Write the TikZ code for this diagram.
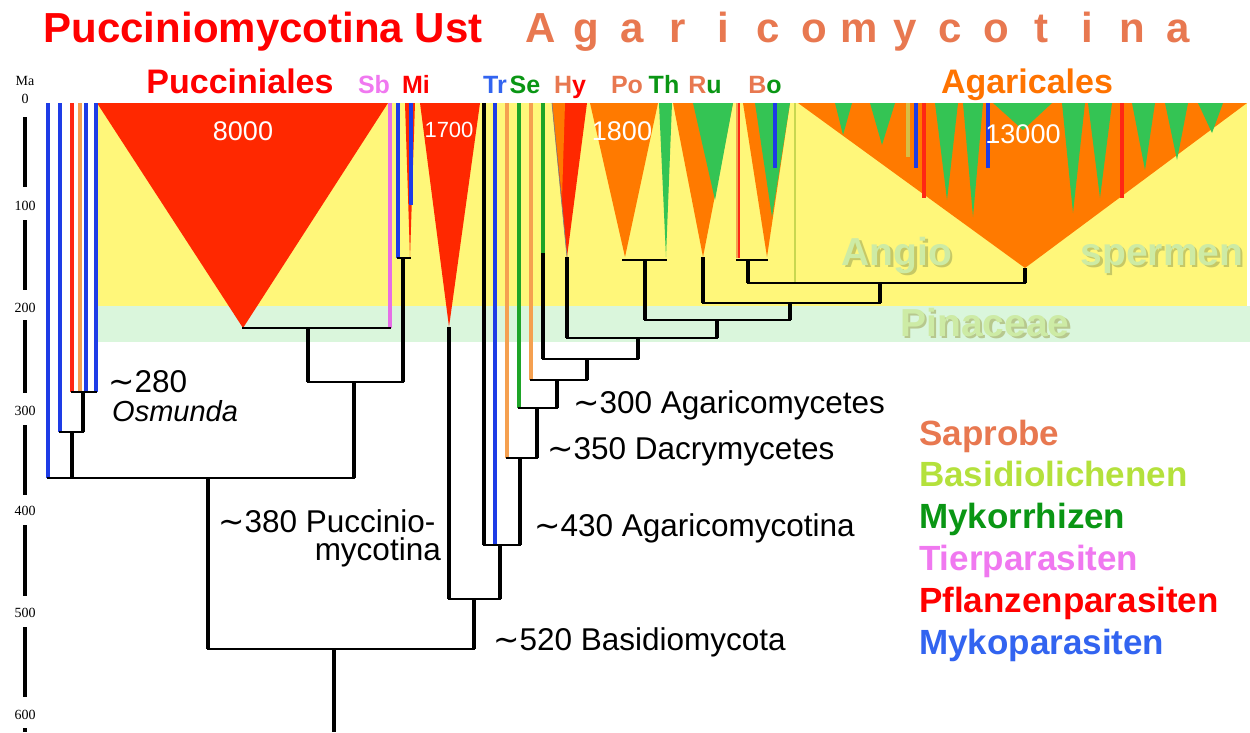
\documentclass[tikz,border=0pt]{standalone}
\usepackage{fontspec}
\setmainfont{Liberation Sans}
\newfontfamily\tickfont{Liberation Serif}
\newfontfamily\dejafont{DejaVu Sans}
\newcommand{\fsz}[1]{\fontsize{#1}{#1}\selectfont}
\newcommand{\mytilde}{{\dejafont ∼}}
\definecolor{pred}{RGB}{255,40,0}
\definecolor{porange}{RGB}{255,122,0}
\definecolor{pgreen}{RGB}{52,196,84}
\definecolor{byellow}{RGB}{255,247,122}
\definecolor{bgreen}{RGB}{218,246,220}
\definecolor{lblue}{RGB}{30,60,230}
\definecolor{lred}{RGB}{255,40,20}
\definecolor{lorange}{RGB}{245,160,80}
\definecolor{lgreen}{RGB}{30,165,40}
\definecolor{lpink}{RGB}{230,110,230}
\definecolor{lyg}{RGB}{200,215,80}
\definecolor{lolive}{RGB}{215,190,70}
\definecolor{salmon}{RGB}{232,120,80}
\definecolor{lime}{RGB}{180,225,60}
\definecolor{dgreen}{RGB}{10,150,20}
\definecolor{tpink}{RGB}{240,120,240}
\definecolor{tred}{RGB}{255,0,0}
\definecolor{tblue}{RGB}{50,100,240}
\definecolor{aorange}{RGB}{255,115,0}
\definecolor{ghosttxt}{RGB}{205,235,165}
\definecolor{ghostsh}{RGB}{160,170,90}
\begin{document}
\begin{tikzpicture}[x=1pt,y=-1pt,
 hb/.style={line width=2.2pt,line cap=rect},
 st/.style={line width=4.8pt},
 ln/.style={line width=3.4pt},
 tl/.style={line width=3.6pt},
 t/.style={inner sep=0pt,anchor=base},
 tw/.style={inner sep=0pt,anchor=base west},
 te/.style={inner sep=0pt,anchor=base east},
 toplbl/.style={t,font=\fsz{25}\bfseries},
 biglbl/.style={t,font=\fsz{34}\bfseries},
 num/.style={t,text=white},
 ann/.style={tw,font=\fsz{31.5}},
 leg/.style={tw,font=\fsz{35}\bfseries},
 tick/.style={t,font=\tickfont\fsz{14}},
 ghost/.style={t,font=\fsz{39}\bfseries,text=ghosttxt},
 ghostshadow/.style={t,font=\fsz{39}\bfseries,text=ghostsh,opacity=0.6},
]
\useasboundingbox (0,0) rectangle (1250,732);
\fill[white] (0,0) rectangle (1250,732);
% background bands
\fill[byellow] (97,103) rectangle (1247,306);
\fill[bgreen] (97,306) rectangle (1250,342);

% ghost texts
\node[ghostshadow] (angioS) at (899.5,267.5) {Angio};
\node[ghost] (angio) at (897,265) {Angio};
\node[ghostshadow] (spermS) at (1164.5,267.5) {spermen};
\node[ghost] (sperm) at (1162,265) {spermen};
\node[ghostshadow] (pinaS) at (987.5,338.5) {Pinaceae};
\node[ghost] (pina) at (985,336) {Pinaceae};

% time scale
\node[tick] (ma) at (25,85) {Ma};
\node[tick] (m0) at (25,103) {0};
\foreach \v/\yy in {100/210,200/312,300/415,400/515,500/617,600/719}
  \node[tick] (m\v) at (25,\yy) {\v};
\foreach \a/\b [count=\i] in {117/187,220/290,320/393,425/495,525/596,627/697,728/732}{
  \coordinate (sa\i) at (25,\a); \coordinate (sb\i) at (25,\b);
  \draw[line width=4pt] (sa\i)--(sb\i);}

% ---------- triangles ----------
% Pucciniales
\coordinate (PUa) at (97,103); \coordinate (PUb) at (388,103); \coordinate (PUc) at (243,328);
\fill[pred] (PUa)--(PUb)--(PUc)--cycle;
% Mi
\coordinate (MIa) at (405,103); \coordinate (MIb) at (415,103); \coordinate (MIc) at (410,258);
\fill[pred] (MIa)--(MIb)--(MIc)--cycle;
% 1700
\coordinate (SEa) at (420,103); \coordinate (SEb) at (480,103); \coordinate (SEc) at (449,327);
\fill[pred] (SEa)--(SEb)--(SEc)--cycle;
% Hy
\coordinate (HYa) at (552,103); \coordinate (HYb) at (587,103); \coordinate (HYc) at (567,257);
\coordinate (HYd) at (565,103); \coordinate (HYe) at (562,198);
\fill[pred] (HYa)--(HYb)--(HYc)--cycle;
\fill[porange] (HYa)--(HYd)--(HYe)--cycle;
\draw[gray,line width=0.7pt] (HYa)--(HYc);
% Po, Th
\coordinate (POa) at (590,103); \coordinate (POb) at (658,103); \coordinate (POc) at (625,257);
\fill[porange] (POa)--(POb)--(POc)--cycle;
\coordinate (THa) at (659,103); \coordinate (THb) at (672,103); \coordinate (THc) at (666,257);
\fill[pgreen] (THa)--(THb)--(THc)--cycle;
% Ru
\coordinate (RUa) at (673,103); \coordinate (RUb) at (733,103); \coordinate (RUc) at (703,257);
\fill[porange] (RUa)--(RUb)--(RUc)--cycle;
\coordinate (RUd) at (693,103); \coordinate (RUe) at (715,200);
\fill[pgreen] (RUd)--(RUb)--(RUe)--cycle;
% Bo
\coordinate (BOa) at (743,103); \coordinate (BOb) at (790,103); \coordinate (BOc) at (767,257);
\fill[porange] (BOa)--(BOb)--(BOc)--cycle;
\coordinate (BOd) at (755,103); \coordinate (BOe) at (772,217);
\fill[pgreen] (BOd)--(BOb)--(BOe)--cycle;
% Agaricales
\coordinate (AGa) at (798,103); \coordinate (AGb) at (1247,103); \coordinate (AGc) at (1025,268);
\fill[porange] (AGa)--(AGb)--(AGc)--cycle;
\foreach \l/\r/\ax/\ay [count=\i] in {835/852/843/135,870/895/882/145,935/958/947/200,963/983/973/217,993/1052/1023/130,1062/1085/1073/213,1088/1112/1100/198,1132/1155/1145/170,1165/1188/1177/160,1198/1223/1212/133}{
  \coordinate (ga\i) at (\l,103); \coordinate (gb\i) at (\r,103); \coordinate (gc\i) at (\ax,\ay);
  \fill[pgreen] (ga\i)--(gb\i)--(gc\i)--cycle;}

% ---------- coloured lineages ----------
\foreach \xx/\yb/\cc [count=\i] in {48/478/lblue,60/432/lblue,72/392/lred,80/392/lorange,86/392/lblue,96/392/lblue}{
  \coordinate (A\i t) at (\xx,103); \coordinate (A\i b) at (\xx,\yb);
  \draw[ln,\cc] (A\i t)--(A\i b);}
\coordinate (SBt) at (390,103); \coordinate (SBb) at (390,328);
\draw[ln,lpink] (SBt)--(SBb);
\coordinate (MIt1) at (398,103); \coordinate (MIb1) at (398,258);
\draw[ln,lblue] (MIt1)--(MIb1);
\coordinate (MIt2) at (411,103); \coordinate (MIb2) at (411,205);
\draw[ln,lblue] (MIt2)--(MIb2);
\coordinate (TRt) at (484,103); \coordinate (TRb) at (484,545);
\draw[tl] (TRt)--(TRb);
\coordinate (TBt) at (495,103); \coordinate (TBb) at (495,545);
\draw[ln,lblue] (TBt)--(TBb);
\coordinate (O1t) at (507,103); \coordinate (O1b) at (507,458);
\draw[ln,lorange] (O1t)--(O1b);
\coordinate (G1t) at (519,103); \coordinate (G1b) at (519,408);
\draw[ln,lgreen] (G1t)--(G1b);
\coordinate (O2t) at (531,103); \coordinate (O2b) at (531,380);
\draw[ln,lorange] (O2t)--(O2b);
\coordinate (G2t) at (543,103); \coordinate (G2b) at (543,253);
\draw[ln,lgreen] (G2t)--(G2b);
\coordinate (BRt) at (739,103); \coordinate (BRb) at (739,258);
\draw[line width=2pt,lorange] ([xshift=-2.5pt]BRt)--([xshift=-2.5pt]BRb);
\draw[line width=2.6pt,lred] (BRt)--(BRb);
\coordinate (BBt) at (775,103); \coordinate (BBb) at (775,168);
\draw[ln,lblue] (BBt)--(BBb);
\coordinate (YGt) at (795,103); \coordinate (YGb) at (795,283);
\draw[line width=2.4pt,lyg] (YGt)--(YGb);
% lines inside Agaricales
\coordinate (K1t) at (908,103); \coordinate (K1b) at (908,157);
\draw[ln,lolive] (K1t)--(K1b);
\coordinate (K2t) at (916,103); \coordinate (K2b) at (916,168);
\draw[ln,lblue] (K2t)--(K2b);
\coordinate (K3t) at (924,103); \coordinate (K3b) at (924,198);
\draw[ln,lred] (K3t)--(K3b);
\coordinate (K4t) at (988,103); \coordinate (K4b) at (988,168);
\draw[ln,lblue] (K4t)--(K4b);
\coordinate (K5t) at (1122,103); \coordinate (K5b) at (1122,198);
\draw[ln,lred] (K5t)--(K5b);

% ---------- black tree ----------
% left clade
\coordinate (J1) at (83,392); \coordinate (J1p) at (83,432);
\coordinate (J2) at (72,432); \coordinate (J2p) at (72,478);
\coordinate (J3) at (354,478);
\draw[hb] (A3b)--(A6b);
\draw[st] (J1)--(J1p);
\draw[hb] (A2b)--(J1p);
\draw[st] (J2)--(J2p);
\draw[hb] (A1b)--(J3);
% Pucciniales / Sb / Mi
\draw[hb] (PUc)--(SBb);
\coordinate (J4) at (308,328); \coordinate (J4p) at (308,382);
\draw[st] (J4)--(J4p);
\draw[hb] (MIb1)--(MIc);
\coordinate (J5) at (403,258); \coordinate (J5p) at (403,382);
\draw[st] (J5)--(J5p);
\draw[hb] (J4p)--(J5p);
\coordinate (J6) at (354,382);
\draw[st] (J6)--(J3);
\coordinate (J7) at (208,478); \coordinate (J7p) at (208,649);
\draw[st] (J7)--(J7p);
\coordinate (J8) at (474,649);
\draw[hb] (J7p)--(J8);
\coordinate (R0) at (334,649); \coordinate (R1) at (334,732);
\draw[st] (R0)--(R1);
% 1700
\coordinate (J9) at (449,599); \coordinate (J10) at (500,599);
\draw[st] (SEc)--(J9);
\draw[hb] (J9)--(J10);
\coordinate (J11) at (474,599);
\draw[st] (J11)--(J8);
% Agaricomycotina
\coordinate (J12) at (520,545); \coordinate (J13) at (500,545);
\draw[hb] (TRb)--(J12);
\draw[st] (J13)--(J10);
\coordinate (J14) at (520,458);
\draw[st] (J14)--(J12);
\coordinate (J15) at (537,458);
\draw[hb] (O1b)--(J15);
\coordinate (J16) at (537,408);
\draw[st] (J16)--(J15);
\coordinate (J17) at (557,408);
\draw[hb] (G1b)--(J17);
\coordinate (J18) at (557,380);
\draw[st] (J18)--(J17);
\coordinate (J19) at (587,380);
\draw[hb] (O2b)--(J19);
\coordinate (J20) at (587,359);
\draw[st] (J20)--(J19);
\coordinate (J21) at (543,359);
\draw[st] (G2b)--(J21);
\coordinate (J22) at (638,359);
\draw[hb] (J21)--(J22);
\coordinate (J23) at (638,338);
\draw[st] (J23)--(J22);
\coordinate (J24) at (567,338);
\draw[st] (HYc)--(J24);
\coordinate (J25) at (717,338);
\draw[hb] (J24)--(J25);
\coordinate (J26) at (717,320);
\draw[st] (J26)--(J25);
\coordinate (J27) at (645,320); \coordinate (J28) at (790,320);
\draw[hb] (J27)--(J28);
\coordinate (J29) at (623,260); \coordinate (J30) at (666,260);
\draw[hb] (J29)--(J30);
\coordinate (J31) at (645,260);
\draw[st] (J31)--(J27);
\coordinate (J32) at (790,303);
\draw[st] (J32)--(J28);
\coordinate (J33) at (703,303);
\draw[st] (RUc)--(J33);
\coordinate (J34) at (880,303);
\draw[hb] (J33)--(J34);
\coordinate (J35) at (880,283);
\draw[st] (J35)--(J34);
\coordinate (J36) at (748,283); \coordinate (J37) at (1025,283);
\draw[hb] (J36)--(J37);
\draw[st] (AGc)--(J37);
\coordinate (J38) at (737,260); \coordinate (J39) at (767,260);
\draw[hb] (J38)--(J39);
\coordinate (J40) at (748,260);
\draw[st] (J40)--(J36);

% ---------- numbers ----------
\node[num,font=\fsz{27}] (n8000) at (243,140) {8000};
\node[num,font=\fsz{22}] (n1700) at (449,137) {1700};
\node[num,font=\fsz{27}] (n1800) at (622,140) {1800};
\node[num,font=\fsz{27}] (n13000) at (1023,143) {13000};

% ---------- titles ----------
\node[t,font=\fsz{42}\bfseries,text=tred] (title) at (263,42) {Pucciniomycotina Ust};
\foreach \l [count=\i] in {A,g,a,r,i,c,o,m,y,c,o,t,i,n,a}
  \node[t,font=\fsz{42}\bfseries,text=salmon] (ag\i) at ({541+(\i-1)*45.5},42) {\l};

% ---------- group labels ----------
\node[biglbl,text=tred] (lpuc) at (240,93) {Pucciniales};
\node[toplbl,text=tpink] (lsb) at (374,93) {Sb};
\node[toplbl,text=tred] (lmi) at (416,93) {Mi};
\node[toplbl,text=tblue] (ltr) at (495,93) {Tr};
\node[toplbl,text=dgreen] (lse) at (525,93) {Se};
\node[toplbl] (lhy) at (570,93) {\textcolor{salmon}{H}\textcolor{tred}{y}};
\node[toplbl,text=salmon] (lpo) at (627,93) {Po};
\node[toplbl,text=dgreen] (lth) at (664,93) {Th};
\node[toplbl] (lru) at (705,93) {\textcolor{salmon}{R}\textcolor{dgreen}{u}};
\node[toplbl] (lbo) at (765,93) {\textcolor{salmon}{B}\textcolor{dgreen}{o}};
\node[biglbl,text=aorange] (lagar) at (1027,93) {Agaricales};

% ---------- annotations ----------
\node[ann] (a280) at (108,392) {\mytilde280};
\node[ann,font=\fsz{29}\itshape] (aosm) at (112,421) {Osmunda};
\node[ann] (a380) at (218,532) {\mytilde380 Puccinio-};
\node[te,font=\fsz{31.5}] (a380b) at (441,560) {mycotina};
\node[ann] (a300) at (573,413) {\mytilde300 Agaricomycetes};
\node[ann] (a350) at (547,459) {\mytilde350 Dacrymycetes};
\node[ann] (a430) at (534,536) {\mytilde430 Agaricomycotina};
\node[ann] (a520) at (493,650) {\mytilde520 Basidiomycota};

% ---------- legend ----------
\node[leg,text=salmon] (g1) at (919,445) {Saprobe};
\node[leg,text=lime] (g2) at (919,486) {Basidiolichenen};
\node[leg,text=dgreen] (g3) at (919,528) {Mykorrhizen};
\node[leg,text=tpink] (g4) at (919,570) {Tierparasiten};
\node[leg,text=tred] (g5) at (919,612) {Pflanzenparasiten};
\node[leg,text=tblue] (g6) at (919,654) {Mykoparasiten};
\end{tikzpicture}
\end{document}
